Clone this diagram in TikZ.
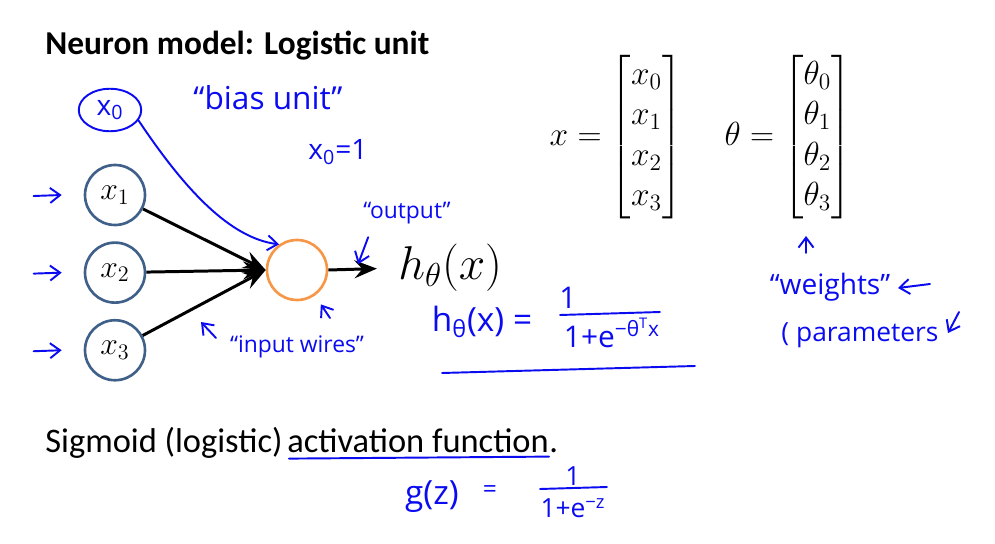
\RequirePackage{fix-cm}
\documentclass[tikz,border=0pt]{standalone}
\usepackage{amsmath}
\usepackage{fontspec}
\setmainfont{Carlito}
\newfontfamily\penfont{Open Sans}
\usetikzlibrary{calc,positioning,arrows.meta,shapes.geometric}
\definecolor{UnitBlue}{HTML}{3F6089}
\definecolor{UnitOrange}{HTML}{F79646}
\definecolor{PenBlue}{HTML}{0B0BF2}

\tikzset{
  inunit/.style={circle, draw=UnitBlue, line width=1.5pt, fill=white,
    minimum size=1.2cm, inner sep=0pt, font=\fontsize{18}{20}\selectfont},
  logunit/.style={circle, draw=UnitOrange, line width=1.5pt,
    minimum size=1.2cm, inner sep=0pt},
  wire/.style={-{Stealth[length=4.5mm,width=3.6mm,inset=1.6mm]}, line width=1.7pt},
  pen/.style={PenBlue, line width=1.1pt, line cap=round, line join=round},
  penarrow/.style={pen, -{Straight Barb[length=2mm,width=3mm]}},
  pentext/.style={text=PenBlue, inner sep=1pt, font=\penfont\fontsize{#1}{#1}\selectfont},
  pentext/.default=15,
  slidetext/.style={inner sep=0pt, font=\fontsize{19.6}{23}\selectfont},
}

\begin{document}
\begin{tikzpicture}[x=0.02cm, y=-0.02cm]
  \useasboundingbox (0,0) rectangle (995,544);

  % title
  \node[inner sep=0pt, anchor=base west, font=\fontsize{19}{23}\selectfont\bfseries] (title) at (45,55)
    {Neuron model: Logistic unit};

  % network
  \node[inunit] (x1) at (115,195) {$x_1$};
  \node[inunit, below=0.3cm of x1] (x2) {$x_2$};
  \node[inunit, below=0.3cm of x2] (x3) {$x_3$};
  \node[logunit] (unit) at (297,270) {};
  \node[anchor=west, inner sep=0pt, font=\fontsize{27}{30}\selectfont] (hyp) at (398,268) {$h_\theta(x)$};

  \foreach \i in {1,2,3}
    \draw[wire] (x\i) -- (unit.west);
  \draw[wire, shorten >=12pt] (unit.east) -- (hyp.west);

  % vectors
  \node[font=\fontsize{19}{23}\selectfont] (xvec) at (616,137)
    {$x=\begin{bmatrix}x_0\\x_1\\x_2\\x_3\end{bmatrix}$};
  \node[font=\fontsize{19}{23}\selectfont] (thvec) at (788,137)
    {$\theta=\begin{bmatrix}\theta_0\\\theta_1\\\theta_2\\\theta_3\end{bmatrix}$};

  % pen notes
  \node[pentext=16, ellipse, draw=PenBlue, line width=1.1pt,
    minimum width=1.25cm, minimum height=0.85cm] (bias) at (110,110) {x\textsubscript{0}};
  \node[pentext=18] (biaslbl) at (268,98) {“bias unit”};
  \node[pentext=16] (biasval) at (338,152) {x\textsubscript{0}=1};
  \draw[penarrow] (bias.-20) .. controls (185,190) and (230,238) .. (unit.125);

  \foreach \i in {1,2,3}
    \draw[penarrow] ($(x\i.west)+(-50,1)$) -- ($(x\i.west)+(-22,0)$);

  \node[pentext=13] (outlbl) at (407,213) {“output”};
  \coordinate (outwire) at ($(unit.east)!0.4!(hyp.west)$);
  \draw[penarrow, shorten >=3pt] ($(outwire)+(12,-32)$) -- (outwire);
  \draw[penarrow, shorten >=6pt] (330,318) -- (unit.-55);

  \node[pentext=13] (wirelbl) at (297,347) {“input wires”};
  \draw[penarrow] (216,338) -- (201,322);

  \node[pentext=19] (hdef) at (482,322) {h\textsubscript{θ}(x) =};
  \node[pentext=17] (hnum) at (568,298) {1};
  \node[pentext=17] (hden) at (612,333) {1+e\textsuperscript{−θ\textsuperscript{T}x}};
  \draw[pen] (560,315) -- (660,312);
  \draw[pen] (442,373) -- (695,366);

  \draw[penarrow] (806,253) -- (806,236);
  \node[pentext=16] (wlbl) at (830,287) {“weights”};
  \draw[penarrow] (930,284) -- (898,288);
  \node[pentext=15] (plbl) at (860,335) {( parameters};
  \draw[penarrow] (959,312) -- (948,333);

  % sigmoid
  \node[slidetext, anchor=base west] (sigA) at (45,452) {Sigmoid (logistic)};
  \node[slidetext, base right=0.23em of sigA] (sigB) {activation function};
  \node[slidetext, base right=0pt of sigB] (sigC) {.};
  \draw[pen] ($(sigB.south west)+(2,6)$) -- ($(sigB.south east)+(0,4)$);

  \node[pentext=19] (gdef) at (432,497) {g(z)};
  \node[pentext=14] (geq) at (490,492) {=};
  \node[pentext=15] (gnum) at (573,476) {1};
  \draw[pen] (540,489) -- (607,487);
  \node[pentext=15] (gden) at (573,508) {1+e\textsuperscript{−z}};
\end{tikzpicture}
\end{document}
